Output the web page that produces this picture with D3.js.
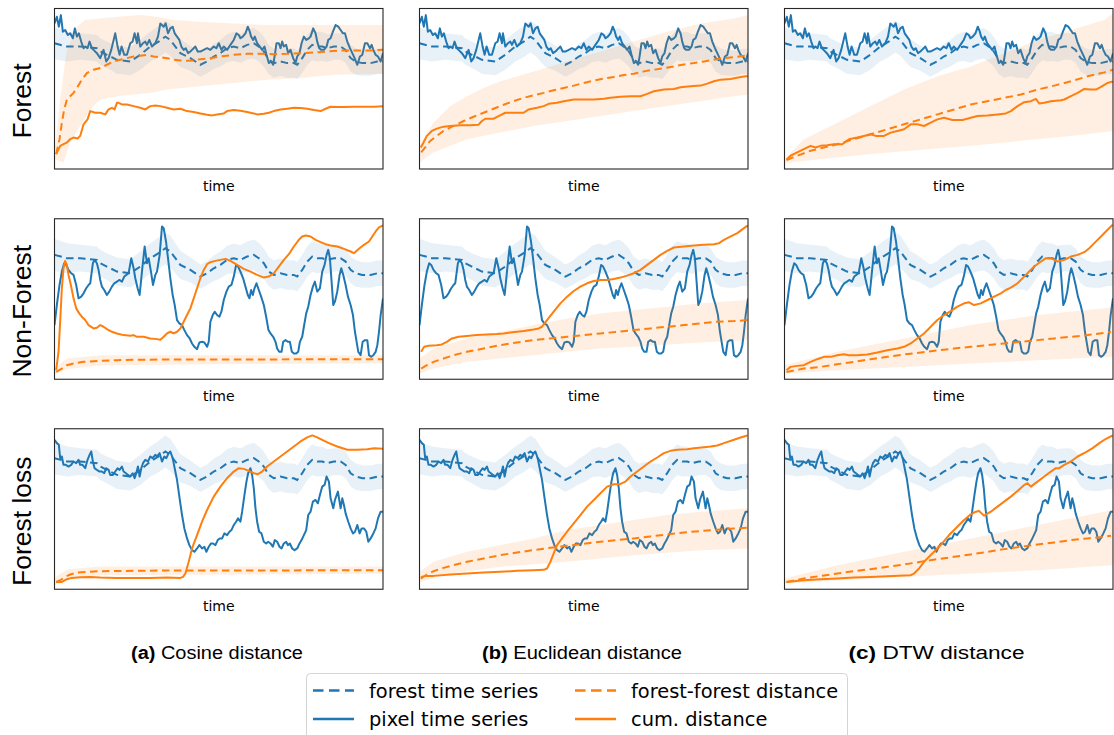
<!DOCTYPE html>
<html>
<head>
<meta charset="utf-8">
<script src="https://cdn.jsdelivr.net/npm/d3@7"></script>
<style>
  body { margin: 0; background: #fff; }
  svg { display: block; }
</style>
</head>
<body>
<svg id="fig" width="1114" height="735"></svg>
<script>
// ---------------------------------------------------------------------------
// Labels
// ---------------------------------------------------------------------------
const rowLabels = ["Forest", "Non-Forest", "Forest loss"];
const colTags = ["(a)", "(b)", "(c)"];
const colNames = ["Cosine distance", "Euclidean distance", "DTW distance"];
const legendLabels = ["forest time series", "pixel time series", "forest-forest distance", "cum. distance"];

// ---------------------------------------------------------------------------
// Reflectance-like series, [time, value]; shared by all three distance columns
// ---------------------------------------------------------------------------
// mean forest reference series and its spread
const forestMean = [[0,380],[37,370],[77,370],[127,365],[137,355],[157,345],[187,330],[227,325],[257,345],[287,370],[312,385],[332,400],[347,390],[362,370],[377,350],[407,335],[437,315],[457,325],[477,340],[497,350],[517,365],[537,370],[557,365],[577,375],[597,380],[612,370],[627,355],[642,330],[657,320],[677,325],[697,320],[717,320],[727,315],[742,335],[757,360],[772,375],[787,370],[802,370],[817,365],[837,370],[857,370],[872,360],[887,335],[902,325],[922,320],[947,320],[967,325],[984,325]];
const forestSpread = [48,45,40,40,40,40,42,42,45,45,47,48,48,45,42,38,36,36,38,40,42,44,44,45,46,46,45,44,44,44,44,44,44,45,46,46,45,44,42,40,40,40,40,40,38,38,38,38];

// pixel series for the three example pixels
const pixelForest = [[0,440],[7,460],[13,430],[19,465],[25,415],[32,420],[40,405],[47,410],[55,395],[61,425],[67,400],[73,410],[80,385],[87,365],[93,370],[99,365],[105,385],[112,365],[117,360],[127,350],[137,335],[147,360],[155,325],[162,335],[170,360],[182,410],[189,370],[195,345],[201,370],[209,345],[217,345],[227,380],[234,385],[240,410],[247,380],[250,410],[257,370],[265,380],[272,385],[277,375],[284,390],[292,370],[302,380],[310,400],[317,440],[327,430],[333,440],[340,410],[347,425],[354,430],[360,410],[367,400],[374,390],[380,370],[387,360],[393,365],[400,350],[407,355],[412,360],[422,370],[429,355],[437,355],[447,360],[457,365],[467,360],[477,370],[485,365],[492,380],[500,360],[507,370],[517,360],[527,375],[537,390],[545,410],[552,405],[557,395],[564,400],[572,410],[579,430],[585,415],[589,400],[595,390],[600,400],[607,380],[615,370],[622,360],[629,370],[635,345],[642,320],[649,325],[655,315],[660,345],[665,380],[672,380],[677,365],[682,385],[687,370],[694,375],[700,350],[707,360],[715,335],[722,320],[727,340],[734,350],[740,380],[747,400],[754,390],[762,395],[767,400],[775,425],[782,410],[787,385],[793,365],[799,360],[807,360],[815,370],[820,390],[827,395],[834,415],[842,435],[850,430],[857,420],[864,410],[870,410],[877,385],[885,365],[892,350],[899,335],[907,315],[915,340],[922,345],[930,380],[937,380],[945,365],[950,375],[955,360],[962,345],[969,340],[977,325],[984,350]];

const pixelNonForest = [[0,170],[7,230],[15,290],[22,330],[29,355],[35,350],[42,335],[50,325],[57,320],[65,290],[72,250],[80,255],[87,265],[95,280],[102,290],[107,295],[115,355],[120,365],[127,355],[132,335],[137,305],[142,285],[149,275],[157,260],[164,270],[172,285],[179,295],[187,300],[194,305],[202,300],[209,315],[215,320],[222,325],[230,370],[237,340],[242,310],[249,280],[255,260],[262,330],[270,405],[277,355],[282,370],[289,330],[295,290],[302,320],[307,330],[315,380],[322,465],[327,460],[334,420],[340,370],[347,310],[354,260],[360,230],[367,185],[374,175],[382,170],[389,155],[397,140],[405,130],[412,115],[419,105],[427,98],[434,118],[442,120],[449,118],[457,105],[462,120],[467,180],[474,200],[480,210],[487,200],[494,195],[500,210],[507,245],[515,270],[522,285],[530,290],[537,315],[544,350],[550,345],[557,330],[565,310],[572,285],[579,260],[584,250],[589,275],[594,260],[599,280],[605,295],[612,275],[619,255],[627,230],[634,195],[641,155],[647,145],[655,135],[662,120],[667,100],[673,90],[680,90],[685,120],[692,125],[699,120],[705,120],[711,90],[717,85],[724,85],[730,90],[735,120],[742,135],[747,165],[754,205],[760,225],[767,260],[774,285],[780,300],[787,270],[795,280],[802,330],[809,350],[815,380],[820,395],[825,370],[830,300],[835,230],[840,240],[847,270],[854,320],[859,340],[865,320],[872,290],[879,255],[887,230],[894,200],[900,150],[905,120],[910,90],[917,80],[923,120],[930,125],[937,125],[942,80],[949,75],[955,80],[962,90],[967,110],[972,150],[977,200],[984,250]];

const pixelForestLoss = [[0,435],[7,425],[13,420],[17,380],[22,385],[27,360],[34,360],[42,355],[50,360],[57,370],[65,365],[72,375],[77,360],[84,360],[92,350],[99,375],[105,390],[110,400],[115,370],[120,350],[127,345],[135,340],[142,340],[149,335],[155,350],[162,345],[167,330],[175,330],[182,340],[189,350],[195,345],[202,355],[207,340],[214,335],[220,330],[227,325],[234,335],[240,320],[245,335],[250,355],[255,325],[260,350],[265,365],[272,375],[280,370],[287,385],[294,380],[302,390],[307,385],[315,395],[322,370],[329,385],[335,380],[342,395],[347,400],[354,380],[360,350],[367,315],[374,265],[382,210],[389,170],[397,140],[404,120],[412,105],[419,100],[427,110],[434,120],[442,110],[449,115],[455,100],[462,115],[469,125],[475,125],[482,120],[489,135],[495,140],[502,140],[509,155],[517,150],[524,160],[530,165],[537,180],[544,190],[550,200],[557,190],[562,220],[569,270],[575,310],[580,335],[587,350],[592,330],[597,290],[602,230],[607,190],[613,160],[620,155],[627,130],[634,125],[640,130],[647,125],[654,115],[660,135],[667,130],[674,115],[680,110],[687,125],[694,130],[699,120],[705,125],[712,110],[719,105],[727,110],[734,125],[740,135],[747,150],[754,165],[760,210],[767,220],[774,250],[782,255],[789,245],[795,270],[802,295],[809,300],[815,325],[822,310],[827,260],[835,230],[840,255],[849,280],[857,230],[862,260],[867,240],[872,215],[880,190],[887,170],[894,155],[900,160],[907,180],[914,155],[920,170],[927,170],[934,160],[940,130],[947,140],[955,155],[962,170],[969,200],[977,220],[984,220]];

// value limits of the left axis for each row (Forest, Non-Forest, Forest loss)
const rowLimits = [[0,485],[8,488],[-12,468]];
// limits of the distance axis for each row
const distLimits = [[0,485],[0,480],[0,480]];

// ---------------------------------------------------------------------------
// Distance series, [time, value]: forest-forest mean with its band, cumulative
// ---------------------------------------------------------------------------
// Cosine
const cosForestFF   = [[5,45],[15,90],[22,140],[29,180],[37,210],[47,220],[57,230],[67,245],[82,270],[97,290],[117,300],[137,305],[157,315],[177,325],[197,330],[217,335],[237,340],[257,342],[277,345],[297,340],[317,338],[337,335],[357,330],[377,328],[397,327],[417,328],[437,332],[467,335],[497,340],[537,345],[577,348],[617,348],[657,347],[697,348],[737,350],[777,352],[817,355],[857,358],[897,358],[937,358],[984,360]];
const cosForestFFHi = [[0,50],[17,210],[37,360],[67,430],[92,450],[137,455],[187,460],[257,465],[307,460],[357,450],[437,445],[537,440],[637,435],[737,435],[837,435],[984,435]];
const cosForestFFLo = [[0,30],[27,20],[47,80],[77,130],[107,180],[137,210],[187,220],[237,225],[287,230],[337,240],[437,250],[537,260],[637,270],[737,275],[837,285],[984,288]];
const cosForestCum  = [[5,45],[17,70],[27,75],[37,80],[47,90],[57,95],[69,92],[77,100],[87,135],[99,150],[107,175],[122,170],[137,170],[152,165],[162,180],[172,185],[180,180],[187,200],[192,200],[202,195],[217,195],[237,190],[257,185],[272,180],[287,190],[302,192],[317,190],[337,185],[357,180],[377,182],[397,175],[417,172],[437,168],[457,164],[472,162],[487,165],[507,168],[517,175],[537,178],[557,176],[577,172],[597,168],[607,165],[627,167],[642,170],[657,175],[677,180],[697,182],[717,185],[737,184],[757,182],[777,178],[797,175],[812,182],[827,188],[847,187],[867,187],[897,188],[927,188],[957,188],[984,190]];

const cosNonForestFF   = [[5,22],[22,32],[37,42],[57,47],[87,52],[137,55],[187,57],[237,58],[337,59],[437,59],[537,59],[637,59],[737,60],[837,60],[984,60]];
const cosNonForestFFHi = [[0,32],[37,62],[137,72],[984,72]];
const cosNonForestFFLo = [[0,15],[37,30],[137,42],[984,48]];
const cosNonForestCum  = [[5,27],[12,82],[17,172],[22,272],[27,332],[32,354],[37,342],[42,312],[49,282],[57,242],[65,212],[74,197],[82,187],[92,177],[102,162],[117,152],[127,154],[137,162],[147,157],[157,150],[172,142],[187,137],[207,132],[227,130],[237,132],[247,127],[267,127],[287,122],[307,120],[317,118],[327,127],[337,137],[347,142],[357,137],[367,142],[377,152],[387,172],[397,192],[407,212],[417,242],[427,272],[437,302],[447,327],[457,344],[467,350],[482,354],[497,357],[512,360],[527,354],[547,342],[567,330],[587,322],[607,312],[627,304],[642,307],[657,317],[672,337],[687,357],[702,374],[717,397],[732,417],[742,427],[752,430],[767,427],[782,417],[797,410],[812,404],[827,400],[847,397],[867,390],[887,382],[897,377],[912,390],[927,402],[942,412],[952,427],[962,442],[972,454],[984,460]];

const cosForestLossFF   = [[5,22],[17,27],[32,37],[47,44],[67,50],[97,52],[137,54],[237,55],[337,56],[437,56],[637,56],[837,57],[984,57]];
const cosForestLossFFHi = [[0,35],[40,60],[137,68],[984,68]];
const cosForestLossFFLo = [[0,12],[40,32],[137,42],[984,46]];
const cosForestLossCum  = [[5,22],[22,22],[37,30],[52,34],[77,36],[107,37],[137,35],[187,34],[237,34],[287,34],[337,35],[377,34],[385,37],[392,47],[402,82],[412,122],[427,162],[442,202],[457,237],[477,277],[497,307],[517,332],[537,352],[552,362],[567,360],[582,354],[597,347],[609,344],[622,352],[637,367],[657,382],[677,397],[697,412],[717,427],[737,442],[757,454],[772,460],[787,454],[802,447],[822,437],[847,427],[877,417],[907,417],[937,419],[957,422],[984,420]];

// Euclidean
const eucForestFF   = [[5,50],[17,65],[32,85],[52,100],[72,115],[102,130],[132,145],[162,158],[192,170],[222,182],[252,194],[282,205],[312,215],[342,223],[372,230],[402,238],[432,245],[462,252],[492,260],[522,267],[552,273],[582,278],[612,284],[642,288],[672,295],[702,300],[732,305],[762,310],[792,316],[822,320],[852,325],[882,330],[912,335],[942,338],[972,342],[984,345]];
const eucForestFFHi = [[0,70],[42,140],[92,190],[142,220],[192,245],[242,265],[342,295],[442,325],[542,355],[642,385],[742,415],[842,440],[942,455],[984,465]];
const eucForestFFLo = [[0,20],[42,50],[92,70],[142,90],[242,110],[342,130],[442,145],[542,160],[642,175],[742,190],[842,205],[942,220],[984,225]];
const eucForestCum  = [[4,65],[12,80],[22,100],[37,115],[52,122],[72,128],[92,130],[122,132],[152,132],[177,134],[187,145],[197,152],[222,152],[237,160],[257,170],[287,170],[312,170],[327,180],[352,185],[372,190],[387,197],[412,200],[432,205],[462,210],[492,210],[522,210],[552,212],[572,215],[602,218],[632,220],[662,220],[682,227],[702,235],[732,240],[762,242],[782,247],[812,250],[842,252],[862,258],[882,265],[902,270],[932,272],[962,278],[977,280],[984,280]];

const eucNonForestFF   = [[5,32],[22,42],[42,52],[72,62],[102,72],[142,82],[192,92],[242,102],[292,110],[342,117],[392,122],[442,127],[492,132],[542,137],[592,142],[642,147],[692,152],[742,157],[792,162],[842,167],[892,172],[942,174],[984,177]];
const eucNonForestFFHi = [[0,62],[42,92],[142,122],[242,142],[342,162],[442,182],[542,197],[642,207],[742,217],[842,227],[984,237]];
const eucNonForestFFLo = [[0,17],[42,32],[142,52],[242,62],[342,72],[442,82],[542,92],[642,97],[742,104],[842,110],[984,117]];
const eucNonForestCum  = [[5,82],[14,97],[27,100],[52,102],[67,104],[82,112],[97,122],[117,127],[142,129],[172,132],[202,134],[232,135],[252,137],[272,140],[292,142],[312,144],[342,149],[357,152],[367,157],[382,177],[402,202],[422,227],[442,247],[462,264],[482,277],[502,287],[522,294],[542,297],[562,297],[582,300],[602,304],[622,310],[642,317],[662,327],[682,342],[702,357],[722,372],[742,384],[762,394],[792,397],[822,400],[852,402],[882,404],[897,407],[912,417],[932,427],[952,437],[972,452],[984,460]];

const eucForestLossFF   = [[4,32],[22,44],[42,54],[72,64],[102,72],[142,82],[192,92],[242,102],[292,110],[342,117],[392,124],[442,130],[492,136],[542,142],[592,147],[642,152],[692,158],[742,164],[792,170],[842,174],[892,178],[942,182],[982,184]];
const eucForestLossFFHi = [[0,52],[42,82],[142,112],[242,132],[342,152],[442,177],[542,192],[642,207],[742,222],[842,232],[984,242]];
const eucForestLossFFLo = [[0,22],[92,47],[242,67],[442,82],[642,102],[842,117],[984,122]];
const eucForestLossCum  = [[4,37],[22,40],[42,40],[92,44],[142,47],[192,50],[242,52],[292,55],[342,57],[372,58],[382,62],[392,82],[402,107],[412,132],[427,152],[442,172],[462,197],[482,222],[502,247],[522,267],[542,287],[562,307],[582,314],[602,315],[617,322],[632,337],[652,352],[672,367],[692,382],[712,394],[732,407],[752,414],[772,417],[802,419],[822,422],[852,425],[872,427],[892,430],[912,437],[942,447],[962,454],[982,460]];

// DTW
const dtwForestFF   = [[6,27],[38,40],[78,55],[118,65],[158,75],[208,90],[258,105],[308,120],[358,135],[408,150],[458,165],[508,180],[558,195],[608,205],[658,215],[708,225],[758,240],[808,252],[858,265],[908,280],[958,292],[984,300]];
const dtwForestFFHi = [[0,30],[58,90],[158,140],[258,190],[358,240],[458,280],[558,310],[658,350],[758,390],[858,420],[958,450],[984,470]];
const dtwForestFFLo = [[0,18],[258,45],[558,70],[858,100],[984,115]];
const dtwForestCum  = [[6,28],[18,40],[38,50],[58,60],[78,70],[93,65],[108,70],[128,72],[148,75],[173,75],[193,90],[218,95],[238,100],[258,105],[273,100],[298,100],[318,110],[338,115],[358,120],[378,135],[398,135],[418,130],[438,140],[458,150],[478,155],[503,148],[533,148],[558,155],[578,160],[608,162],[638,165],[663,168],[678,175],[698,190],[718,202],[738,205],[753,212],[763,198],[778,200],[798,205],[828,208],[838,210],[858,220],[878,230],[898,242],[918,240],[933,240],[948,248],[968,260],[980,264],[984,262]];

const dtwNonForestFF   = [[6,22],[58,32],[108,37],[158,45],[208,52],[258,60],[308,67],[358,74],[408,80],[458,86],[508,92],[558,97],[608,102],[658,107],[708,112],[758,117],[808,122],[858,127],[908,132],[958,139],[978,142]];
const dtwNonForestFFHi = [[0,42],[158,82],[358,122],[558,162],[758,192],[958,212],[984,217]];
const dtwNonForestFFLo = [[0,17],[158,27],[358,37],[558,47],[758,57],[984,67]];
const dtwNonForestCum  = [[6,27],[18,37],[38,40],[58,42],[78,52],[98,60],[118,67],[138,67],[158,72],[178,75],[193,72],[218,72],[248,74],[278,80],[308,87],[338,92],[358,97],[378,107],[398,122],[418,137],[438,157],[458,177],[478,192],[498,204],[518,217],[538,227],[553,230],[568,222],[588,227],[608,237],[628,247],[648,257],[663,267],[678,274],[698,287],[718,307],[733,322],[748,337],[768,352],[783,362],[798,362],[818,352],[838,357],[858,367],[878,372],[898,380],[913,392],[928,407],[948,427],[968,447],[983,462]];

const dtwForestLossFF   = [[6,22],[58,32],[108,40],[158,47],[208,54],[258,60],[308,67],[358,74],[408,82],[458,90],[508,97],[558,104],[608,112],[658,120],[708,127],[758,134],[808,140],[858,147],[908,152],[958,157],[978,160]];
const dtwForestLossFFHi = [[0,32],[158,72],[358,112],[558,152],[758,192],[984,237]];
const dtwForestLossFFLo = [[0,17],[258,32],[558,47],[758,57],[984,72]];
const dtwForestLossCum  = [[6,22],[58,27],[108,30],[158,32],[208,35],[258,37],[308,39],[358,41],[378,42],[388,47],[403,62],[418,82],[433,97],[448,112],[463,127],[478,144],[493,162],[508,177],[523,192],[538,207],[558,224],[573,232],[583,234],[590,227],[598,220],[618,232],[638,247],[658,262],[678,277],[698,294],[718,312],[728,317],[738,307],[758,322],[778,337],[798,352],[813,362],[823,362],[838,372],[858,382],[878,397],[903,410],[923,422],[943,437],[963,450],[983,460]];

const timeDomain = [0, 984];

// ---------------------------------------------------------------------------
// Panel table built from the arrays above
// ---------------------------------------------------------------------------
const pixelByRow = [pixelForest, pixelNonForest, pixelForestLoss];
const distByCell = [
  [
    [cosForestFF, cosForestFFHi, cosForestFFLo, cosForestCum],
    [eucForestFF, eucForestFFHi, eucForestFFLo, eucForestCum],
    [dtwForestFF, dtwForestFFHi, dtwForestFFLo, dtwForestCum]
  ],
  [
    [cosNonForestFF, cosNonForestFFHi, cosNonForestFFLo, cosNonForestCum],
    [eucNonForestFF, eucNonForestFFHi, eucNonForestFFLo, eucNonForestCum],
    [dtwNonForestFF, dtwNonForestFFHi, dtwNonForestFFLo, dtwNonForestCum]
  ],
  [
    [cosForestLossFF, cosForestLossFFHi, cosForestLossFFLo, cosForestLossCum],
    [eucForestLossFF, eucForestLossFFHi, eucForestLossFFLo, eucForestLossCum],
    [dtwForestLossFF, dtwForestLossFFHi, dtwForestLossFFLo, dtwForestLossCum]
  ]
];

// ---------------------------------------------------------------------------
// Layout and style
// ---------------------------------------------------------------------------
const BLUE = "#1f77b4", ORANGE = "#ff7f0e";
const colLeft = [54.5, 419.5, 784.5];
const rowTop = [8.5, 218.75, 428.75];
const panelW = 328.5, panelH = 160.5;
const DASH = "7.5,4.5";

const svg = d3.select("#fig");
svg.append("rect").attr("width", 1114).attr("height", 735).attr("fill", "#fff");
const defs = svg.append("defs");

rowLabels.forEach((rowName, r) => {
  colNames.forEach((_, c) => {
    const x0 = colLeft[c], y0 = rowTop[r];
    const clipId = `clip-${r}-${c}`;
    defs.append("clipPath").attr("id", clipId)
      .append("rect").attr("x", x0).attr("y", y0).attr("width", panelW).attr("height", panelH);

    const x = d3.scaleLinear().domain(timeDomain).range([x0, x0 + panelW]);
    const y = d3.scaleLinear().domain(rowLimits[r]).range([y0 + panelH, y0]);
    const y2 = d3.scaleLinear().domain(distLimits[r]).range([y0 + panelH, y0]);

    const g = svg.append("g").attr("clip-path", `url(#${clipId})`);

    // forest reference band and mean
    const band = d3.area()
      .x(d => x(d[0]))
      .y0((d, i) => y(d[1] - forestSpread[i]))
      .y1((d, i) => y(d[1] + forestSpread[i]));
    g.append("path").attr("d", band(forestMean))
      .attr("fill", BLUE).attr("fill-opacity", 0.1);

    const lineL = d3.line().x(d => x(d[0])).y(d => y(d[1]));
    g.append("path").attr("d", lineL(forestMean))
      .attr("fill", "none").attr("stroke", BLUE).attr("stroke-width", 2)
      .attr("stroke-dasharray", DASH);

    // pixel series
    g.append("path").attr("d", lineL(pixelByRow[r]))
      .attr("fill", "none").attr("stroke", BLUE).attr("stroke-width", 2)
      .attr("stroke-linejoin", "round");

    // distances on the secondary axis
    const [ff, ffHi, ffLo, cum] = distByCell[r][c];
    const lineR = d3.line().x(d => x(d[0])).y(d => y2(d[1]));
    g.append("path").attr("d", lineR(ffHi.concat(ffLo.slice().reverse())) + "Z")
      .attr("fill", ORANGE).attr("fill-opacity", 0.12);
    g.append("path").attr("d", lineR(ff))
      .attr("fill", "none").attr("stroke", ORANGE).attr("stroke-width", 2)
      .attr("stroke-dasharray", DASH);
    g.append("path").attr("d", lineR(cum))
      .attr("fill", "none").attr("stroke", ORANGE).attr("stroke-width", 2)
      .attr("stroke-linejoin", "round");

    // frame
    svg.append("rect").attr("x", x0).attr("y", y0).attr("width", panelW).attr("height", panelH)
      .attr("fill", "none").attr("stroke", "#262626").attr("stroke-width", 1.1);

    // x axis label
    svg.append("text").attr("x", x0 + panelW / 2).attr("y", y0 + panelH + 22)
      .attr("text-anchor", "middle")
      .attr("font-family", "DejaVu Sans").attr("font-size", 14).attr("fill", "#000")
      .text("time");
  });

  // row label
  svg.append("text")
    .attr("transform", `translate(31,${rowTop[r] + 92.5}) rotate(-90)`)
    .attr("text-anchor", "middle")
    .attr("font-family", "Liberation Sans, Arial, sans-serif").attr("font-size", 26.5).attr("fill", "#000")
    .text(rowName);
});

// sub-captions
const capCenter = [217, 582, 936.5];
const capLength = [172, 200, 176];
colNames.forEach((name, c) => {
  const t = svg.append("text")
    .attr("x", capCenter[c]).attr("y", 658.5)
    .attr("text-anchor", "middle")
    .attr("font-family", "Liberation Sans, Arial, sans-serif").attr("font-size", 17.5).attr("fill", "#000")
    .attr("textLength", capLength[c]).attr("lengthAdjust", "spacingAndGlyphs");
  t.append("tspan").attr("font-weight", "bold").text(colTags[c]);
  t.append("tspan").text(" " + name);
});

// legend
const lg = svg.append("g");
lg.append("rect").attr("x", 306.5).attr("y", 673.5).attr("width", 541).attr("height", 72).attr("rx", 4)
  .attr("fill", "#fff").attr("stroke", "#d4d4d4").attr("stroke-width", 1);
const legendItems = [
  { label: legendLabels[0], color: BLUE, dashed: true, col: 0, row: 0 },
  { label: legendLabels[1], color: BLUE, dashed: false, col: 0, row: 1 },
  { label: legendLabels[2], color: ORANGE, dashed: true, col: 1, row: 0 },
  { label: legendLabels[3], color: ORANGE, dashed: false, col: 1, row: 1 }
];
const legCol = [313, 575];
const legRow = [690.5, 719];
legendItems.forEach(it => {
  const lx = legCol[it.col], ly = legRow[it.row];
  lg.append("line").attr("x1", lx).attr("x2", lx + 41).attr("y1", ly).attr("y2", ly)
    .attr("stroke", it.color).attr("stroke-width", 2.6)
    .attr("stroke-dasharray", it.dashed ? "10.5,5.5" : null);
  lg.append("text").attr("x", lx + 56).attr("y", ly + 7)
    .attr("font-family", "DejaVu Sans").attr("font-size", 19.4).attr("fill", "#000")
    .text(it.label);
});
</script>
</body>
</html>
